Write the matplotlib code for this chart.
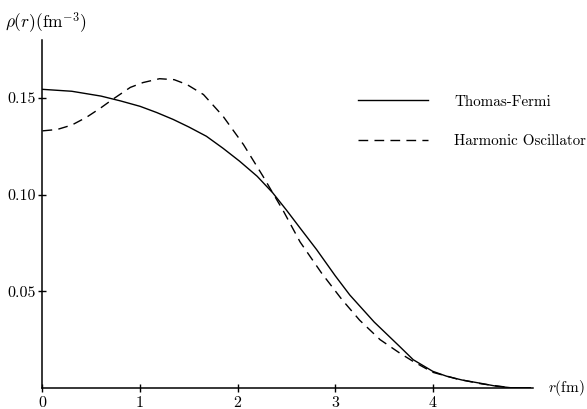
import matplotlib
matplotlib.use("Agg")
import matplotlib.pyplot as plt

plt.rcParams['font.family'] = ['cmr10', 'DejaVu Serif']
plt.rcParams['mathtext.fontset'] = 'cm'
plt.rcParams['axes.unicode_minus'] = False

# Thomas-Fermi density (solid)
r_tf = [0.0, 0.3, 0.6, 0.8, 1.0, 1.17, 1.34, 1.5, 1.68, 1.85, 2.02, 2.2,
        2.36, 2.5, 2.64, 2.81, 3.0, 3.15, 3.4, 3.66, 3.8, 4.0, 4.14, 4.3,
        4.48, 4.65, 4.8, 5.0]
rho_tf = [0.1545, 0.1535, 0.151, 0.1485, 0.1457, 0.1425, 0.1389, 0.135,
          0.1302, 0.124, 0.1173, 0.1095, 0.1009, 0.092, 0.0827, 0.0715,
          0.058, 0.048, 0.034, 0.0214, 0.0145, 0.0085, 0.006, 0.004,
          0.0024, 0.0008, 0.0, 0.0]

# Harmonic oscillator density (dashed)
r_ho = [0.0, 0.15, 0.3, 0.45, 0.6, 0.71, 0.9, 1.03, 1.2, 1.35, 1.48, 1.65,
        1.85, 2.06, 2.26, 2.47, 2.64, 2.86, 3.07, 3.25, 3.46, 3.66, 3.8,
        4.0, 4.25, 4.5, 4.8, 5.0]
rho_ho = [0.133, 0.1337, 0.136, 0.140, 0.145, 0.149, 0.1555, 0.158, 0.160,
          0.1595, 0.157, 0.1518, 0.1406, 0.1259, 0.1095, 0.0914, 0.0755,
          0.0594, 0.0456, 0.035, 0.0249, 0.018, 0.0136, 0.008, 0.0045,
          0.002, 0.0, 0.0]

x_ticks = [0, 1, 2, 3, 4]
y_ticks = [0.05, 0.10, 0.15]
y_tick_labels = ['0.05', '0.10', '0.15']

fig = plt.figure(figsize=(5.87, 4.09), dpi=100)
ax = fig.add_axes([0.0724, 0.052, 0.836, 0.850])

ax.plot(r_tf, rho_tf, color='black', lw=1.0, label='Thomas-Fermi')
ax.plot(r_ho, rho_ho, color='black', lw=1.0, linestyle=(0, (7, 4.5)),
        label='Harmonic Oscillator')

ax.set_xlim(0, 5.03)
ax.set_ylim(0, 0.180)
ax.spines['top'].set_visible(False)
ax.spines['right'].set_visible(False)
for s in ('left', 'bottom'):
    ax.spines[s].set_linewidth(1.1)

ax.set_xticks(x_ticks)
ax.set_xticklabels([str(t) for t in x_ticks])
ax.set_yticks(y_ticks)
ax.set_yticklabels(y_tick_labels)
ax.tick_params(direction='inout', length=6, width=1.0, labelsize=11.5, pad=2)
ax.tick_params(axis='x', pad=3)

fig.text(0.008, 0.945, r'$\rho(r)(\mathrm{fm}^{-3})$', fontsize=12.5,
         ha='left', va='center')
fig.text(0.933, 0.052, r'$r$(fm)', fontsize=11,
         ha='left', va='center')

# legend sits to the right, text nearly touching the figure edge
leg = ax.legend(loc='upper left', bbox_to_anchor=(0.610, 0.768),
                bbox_transform=fig.transFigure, frameon=False, fontsize=10.8,
                handlelength=4.65, handletextpad=1.75, labelspacing=1.7,
                borderpad=0, borderaxespad=0)

fig.savefig('out.png', dpi=100)
